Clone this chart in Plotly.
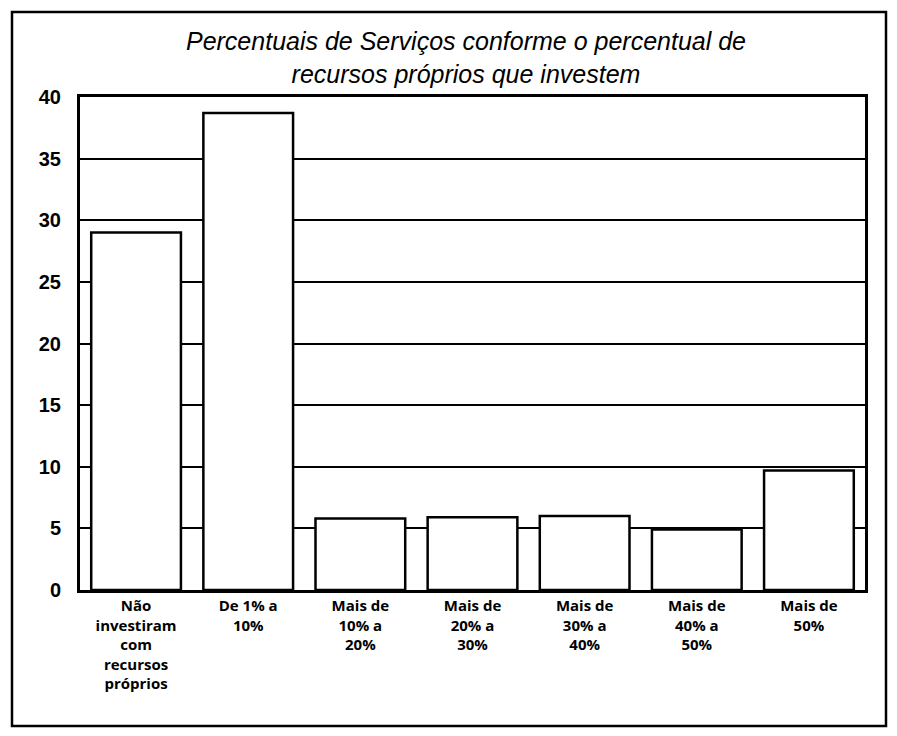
import plotly.graph_objects as go

categories = [
    "Não<br>investiram<br>com<br>recursos<br>próprios",
    "De 1% a<br>10%",
    "Mais de<br>10% a<br>20%",
    "Mais de<br>20% a<br>30%",
    "Mais de<br>30% a<br>40%",
    "Mais de<br>40% a<br>50%",
    "Mais de<br>50%",
]
values = [29.0, 38.7, 5.8, 5.9, 6.0, 4.9, 9.7]
y_ticks = [0, 5, 10, 15, 20, 25, 30, 35, 40]
title_text = "Percentuais de Serviços conforme o percentual de<br>recursos próprios que investem"

fig = go.Figure()
fig.add_trace(go.Bar(
    x=categories,
    y=values,
    marker=dict(color="white", line=dict(color="black", width=2.5)),
    hoverinfo="x+y",
))

# page has an 8px body margin; figure coordinates are offset accordingly
OFF = 8
W, H = 897 - OFF, 736 - 2 * OFF
L, T = 80 - OFF, 97 - OFF
R = W - (865 - OFF)
B = H - (590 - OFF)
pw, ph = W - L - R, H - T - B

def px_x(x):
    return (x - OFF - L) / pw

def px_y(y):
    return (H - B - (y - OFF)) / ph

fig.update_layout(
    width=W, height=H,
    margin=dict(l=L, r=R, t=T, b=B),
    paper_bgcolor="white",
    plot_bgcolor="white",
    bargap=0.2,
    showlegend=False,
    title=dict(
        text=title_text,
        x=(466 - OFF) / W, xanchor="center",
        y=1 - (50 - OFF) / H, yanchor="middle",
        font=dict(family="Liberation Sans", size=25, color="black", style="italic"),
    ),
    xaxis=dict(
        type="category",
        range=[-0.5, 6.5],
        showgrid=False,
        showline=True, linecolor="black", linewidth=3, mirror=True,
        ticks="",
        tickfont=dict(family="Open Sans", size=15, color="black", weight="bold"),
        tickangle=0,
    ),
    yaxis=dict(
        range=[0, 40],
        tickvals=y_ticks,
        showgrid=True, gridcolor="black", gridwidth=1.6,
        showline=True, linecolor="black", linewidth=3, mirror=True,
        zeroline=False,
        ticks="",
        ticklabelstandoff=12,
        tickfont=dict(family="Liberation Sans", size=20, color="black", weight="bold"),
    ),
    shapes=[
        dict(type="rect", xref="paper", yref="paper",
             x0=px_x(12), x1=px_x(886), y0=px_y(726), y1=px_y(12),
             line=dict(color="black", width=2.5), fillcolor="rgba(0,0,0,0)",
             layer="below"),
    ],
)

fig.write_html("out.html")
